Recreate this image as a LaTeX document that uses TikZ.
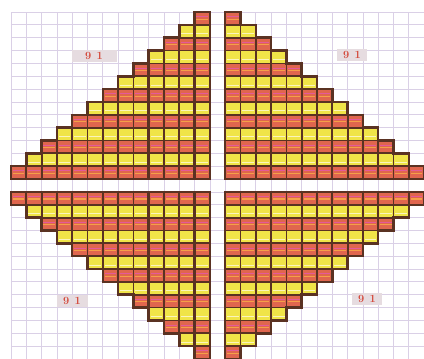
\documentclass[tikz,border=0pt]{standalone}
\definecolor{cellred}{HTML}{E0664E}
\definecolor{cellyel}{HTML}{F0E448}
\definecolor{edgec}{HTML}{5A3222}
\definecolor{gridc}{HTML}{DAD0E6}
\definecolor{lblbg}{HTML}{E6DCE0}
\definecolor{lbltxt}{HTML}{D4483A}
\definecolor{stripeo}{HTML}{F4A048}
\definecolor{stripep}{HTML}{E45A9A}
\definecolor{stripew}{HTML}{FAF4BC}
\newcommand{\drawcell}[3]{%
  \ifnum#3=0
    \fill[cellred] (#1,#2) rectangle ++(1,1);
    \draw[stripeo,line width=1.1pt] (#1+0.12,#2+0.55) -- ++(0.76,0);
    \draw[stripep,line width=0.5pt] (#1+0.12,#2+0.35) -- ++(0.76,0);
  \else
    \fill[cellyel] (#1,#2) rectangle ++(1,1);
    \draw[stripew,line width=1pt] (#1+0.12,#2+0.7) -- ++(0.76,0);
  \fi
  \draw[cellborder] (#1,#2) rectangle ++(1,1);
}
\begin{document}
\begin{tikzpicture}[x=15.3pt,y=-12.85pt,
  cellborder/.style={draw=edgec,line width=1.8pt},
  outline/.style={draw=edgec,line width=2.5pt,line join=miter},
  heavy/.style={draw=edgec,line width=3pt},
  gridline/.style={draw=gridc,line width=0.8pt},
  numlabel/.style={fill=lblbg,text=lbltxt,font=\fontsize{11}{13}\selectfont\bfseries,
    inner sep=0pt,minimum height=12pt}]
\useasboundingbox (-11pt,12pt) rectangle (413pt,-347pt);
\fill[white] (-11pt,12pt) rectangle (413pt,-347pt);
% background grid
\foreach \i in {0,...,27} {\draw[gridline] (\i,0) -- (\i,27);}
\foreach \j in {0,...,27} {\draw[gridline] (0,\j) -- (27,\j);}
% top-left quadrant
\foreach \r in {0,...,12} {
  \pgfmathtruncatemacro\s{12-\r}
  \pgfmathtruncatemacro\p{mod(\r,2)}
  \foreach \c in {\s,...,12} {\drawcell{\c}{\r}{\p}}
}
% top-right quadrant
\foreach \r in {0,...,12} {
  \pgfmathtruncatemacro\e{14+\r}
  \pgfmathtruncatemacro\p{mod(\r,2)}
  \foreach \c in {14,...,\e} {\drawcell{\c}{\r}{\p}}
}
% bottom-left quadrant
\foreach \s in {0,...,12} {
  \pgfmathtruncatemacro\R{14+\s}
  \pgfmathtruncatemacro\p{mod(\s,2)}
  \foreach \c in {\s,...,12} {\drawcell{\c}{\R}{\p}}
}
% bottom-right quadrant
\foreach \s in {0,...,12} {
  \pgfmathtruncatemacro\R{14+\s}
  \pgfmathtruncatemacro\e{26-\s}
  \pgfmathtruncatemacro\p{mod(\s,2)}
  \foreach \c in {14,...,\e} {\drawcell{\c}{\R}{\p}}
}
% staircase outlines
\draw[outline] (13,0) -- (13,13) -- (0,13)
  \foreach \k in {0,...,11} { -- (\k,12-\k) -- (\k+1,12-\k) } -- (12,0) -- cycle;
\draw[outline] (14,0) -- (14,13) -- (27,13)
  \foreach \k in {0,...,11} { -- (27-\k,12-\k) -- (26-\k,12-\k) } -- (15,0) -- cycle;
\draw[outline] (13,27) -- (13,14) -- (0,14)
  \foreach \k in {0,...,11} { -- (\k,15+\k) -- (\k+1,15+\k) } -- (12,27) -- cycle;
\draw[outline] (14,27) -- (14,14) -- (27,14)
  \foreach \k in {0,...,11} { -- (27-\k,15+\k) -- (26-\k,15+\k) } -- (15,27) -- cycle;
% heavy inner lines
\draw[heavy] (9,3) -- (9,13);
\draw[heavy] (12,0) -- (12,13);
\draw[heavy] (9,14) -- (9,24);
\draw[heavy] (12,14) -- (12,27);
% labels
\node[numlabel,minimum width=45pt] (tl) at (83pt,-44pt) {9\enspace1};
\node[numlabel,minimum width=30pt] (tr) at (341pt,-43pt) {9\enspace1};
\node[numlabel,minimum width=31pt] (bl) at (61pt,-289pt) {9\enspace1};
\node[numlabel,minimum width=30pt] (br) at (356pt,-287pt) {9\enspace1};
\end{tikzpicture}
\end{document}
